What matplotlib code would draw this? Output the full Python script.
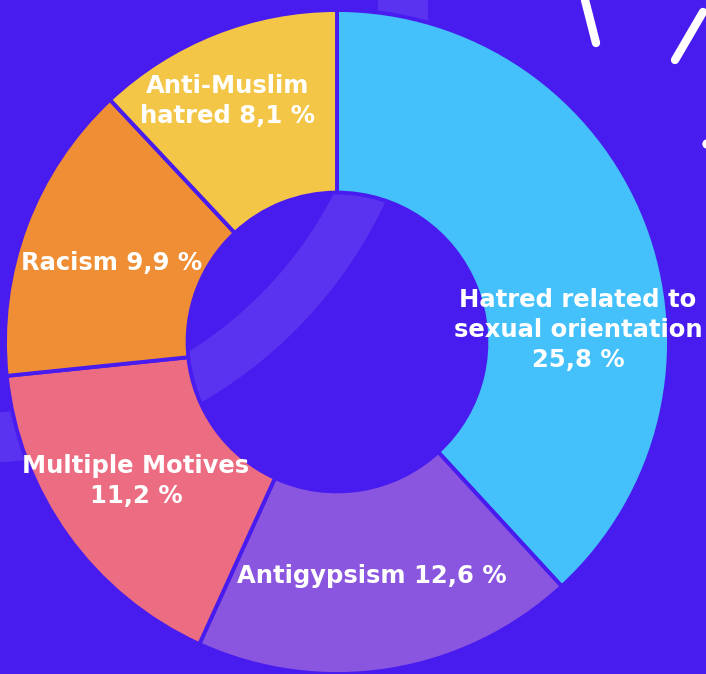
import matplotlib.pyplot as plt
from matplotlib.patches import Wedge, Circle

# shares of hate crime motives (percent)
motives = ["Hatred related to\nsexual orientation", "Antigypsism", "Multiple Motives",
           "Racism", "Anti-Muslim\nhatred"]
shares = [25.8, 12.6, 11.2, 9.9, 8.1]
share_labels = ["25,8 %", "12,6 %", "11,2 %", "9,9 %", "8,1 %"]

colors = ["#44C1FA", "#8A56E0", "#EC6C82", "#EF8E35", "#F4C647"]
bg = "#481BEE"

# label text and where it sits (pixel coords, y from top)
label_texts = [
    motives[0] + "\n" + share_labels[0],
    motives[1] + " " + share_labels[1],
    motives[2] + "\n" + share_labels[2],
    motives[3] + " " + share_labels[3],
    motives[4] + " " + share_labels[4],
]
label_pos = [(578, 330), (372, 576), (136, 481), (112, 263), (228, 101)]

W, H = 706, 674
fig = plt.figure(figsize=(W / 100, H / 100), dpi=100, facecolor=bg)
ax = fig.add_axes([0, 0, 1, 1])
ax.set_facecolor(bg)

# decorative lighter band behind the donut
ax.add_patch(Wedge((-25, H - 10), 453, 255, 370, width=50,
                   facecolor="#5A33F0", edgecolor="none", zorder=0))

# white decoration strokes, top right
ax.plot([585, 596], [H - 0, H - 43], color="white", lw=6, solid_capstyle="round", zorder=1)
ax.plot([703, 675], [H - 12, H - 60], color="white", lw=6, solid_capstyle="round", zorder=1)
ax.add_patch(Circle((707, H - 144), 4, color="white", zorder=1))

cx, cy, r = 337, H - 342, 332
wedges, _ = ax.pie(shares, colors=colors, startangle=90, counterclock=False,
                   center=(cx, cy), radius=r, frame=True,
                   wedgeprops=dict(width=r * 0.55, edgecolor=bg, linewidth=2.8,
                                   joinstyle="round"))
ax.set_xlim(0, W)
ax.set_ylim(0, H)
ax.set_aspect("equal")
ax.axis("off")

for txt, (x, y) in zip(label_texts, label_pos):
    if txt.startswith("Anti-Muslim"):
        txt = "Anti-Muslim\nhatred " + share_labels[4]
    ax.text(x, H - y, txt, ha="center", va="center", color="white",
            fontsize=17.5, fontweight="bold", family="DejaVu Sans",
            linespacing=1.3, zorder=5)

fig.savefig("out.png", dpi=100, facecolor=bg)
